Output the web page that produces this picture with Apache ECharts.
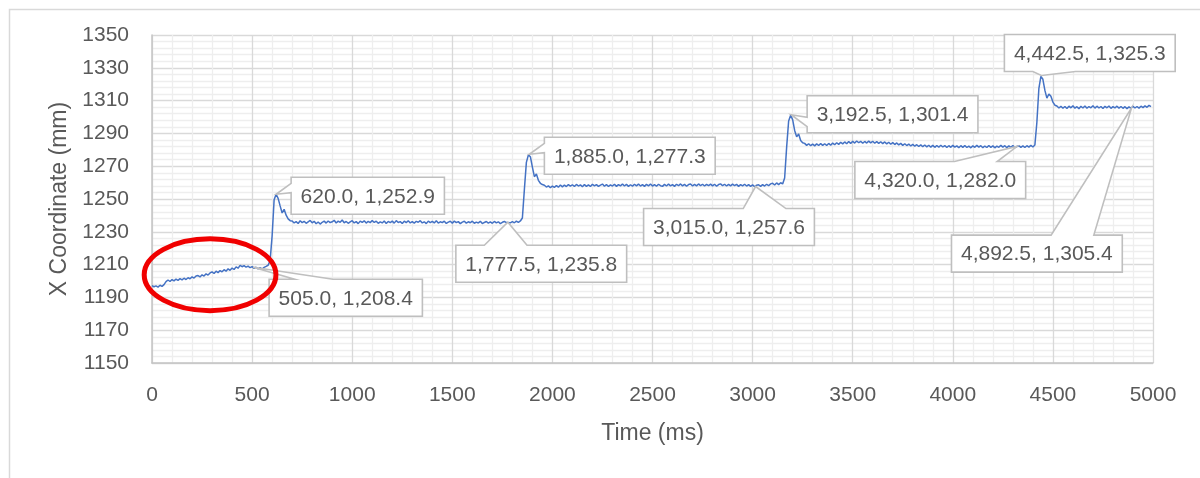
<!DOCTYPE html>
<html>
<head>
<meta charset="utf-8">
<script src="https://cdn.jsdelivr.net/npm/echarts@6/dist/echarts.min.js"></script>
<style>
  html, body { margin: 0; padding: 0; background: #ffffff; }
  #chart { width: 1200px; height: 478px; }
</style>
</head>
<body>
<div id="chart"></div>
<script>
// X position of the tracked point (mm), sampled every 10 ms from t = 0.
const SAMPLE_STEP_MS = 10;

// 0 - 590 ms: slow drift before the first step
const driftPhase = [
  1197.2, 1196.5, 1197.0, 1196.3, 1197.4, 1196.7, 1197.8, 1199.6, 1200.6, 1199.7,
  1200.9, 1200.1, 1201.2, 1200.4, 1201.4, 1200.7, 1201.7, 1200.9, 1202.0, 1201.4,
  1202.5, 1201.8, 1203.0, 1203.3, 1202.5, 1203.8, 1203.0, 1204.4, 1203.6, 1204.9,
  1205.6, 1204.6, 1206.0, 1205.1, 1206.4, 1205.6, 1206.9, 1206.0, 1207.4, 1206.5,
  1207.9, 1207.0, 1208.6, 1207.8, 1209.5, 1208.7, 1209.4, 1208.4, 1209.1, 1208.1,
  1208.8, 1207.7, 1208.4, 1207.4, 1208.2, 1207.3, 1208.3, 1208.9, 1209.6, 1212.4
];
// 600 - 690 ms: first step and overshoot
const step1 = [1227.5, 1249.6, 1252.9, 1250.4, 1245.8, 1241.5, 1243.7, 1240.1, 1237.9, 1236.8];
// 700 - 1840 ms
const plateau1 = [
  1236.6, 1235.4, 1236.2, 1235.1, 1236.7, 1235.6, 1236.4, 1235.2, 1236.1, 1236.9,
  1235.5, 1236.4, 1234.9, 1236.0, 1234.7, 1235.8, 1236.5, 1235.3, 1236.6, 1235.6,
  1236.1, 1237.0, 1235.4, 1236.5, 1235.8, 1237.2, 1235.5, 1236.3, 1235.2, 1236.1,
  1236.8, 1235.4, 1236.2, 1235.0, 1236.5, 1235.7, 1236.7, 1235.3, 1236.4, 1235.6,
  1236.9, 1235.7, 1236.5, 1235.2, 1236.1, 1235.4, 1236.6, 1235.1, 1236.3, 1235.6,
  1236.5, 1235.3, 1236.8, 1235.7, 1236.2, 1235.1, 1236.5, 1235.6, 1236.7, 1235.4,
  1236.2, 1235.3, 1236.4, 1235.8, 1236.8, 1235.4, 1236.1, 1235.0, 1236.5, 1235.6,
  1236.4, 1235.4, 1236.7, 1235.3, 1236.1, 1235.6, 1236.5, 1235.1, 1235.9, 1236.4,
  1235.3, 1236.5, 1235.6, 1236.2, 1235.0, 1235.9, 1236.4, 1235.3, 1236.1, 1235.5,
  1236.5, 1235.2, 1235.9, 1235.4, 1236.4, 1235.0, 1235.7, 1236.3, 1235.3, 1236.0,
  1235.2, 1236.3, 1235.4, 1236.1, 1235.0, 1235.8, 1236.3, 1235.6, 1236.0, 1235.5,
  1236.2, 1235.5, 1236.5, 1235.7, 1236.6
];
// 1850 - 1950 ms
const step2 = [1238.4, 1255.7, 1272.3, 1276.9, 1275.8, 1269.4, 1263.6, 1265.2, 1261.4, 1259.6, 1258.8];
// 1960 - 3140 ms
const plateau2 = [
  1258.4, 1257.3, 1258.0, 1256.9, 1257.9, 1257.1, 1258.2, 1257.2, 1258.5, 1257.4,
  1258.5, 1257.6, 1258.8, 1257.8, 1258.7, 1257.6, 1258.9, 1257.9, 1258.6, 1257.5,
  1258.8, 1257.7, 1258.6, 1257.6, 1259.0, 1258.0, 1258.8, 1257.7, 1258.5, 1259.1,
  1257.8, 1258.8, 1257.6, 1258.6, 1257.9, 1259.0, 1257.7, 1258.8, 1258.0, 1259.2,
  1257.9, 1258.9, 1257.7, 1258.7, 1257.8, 1259.0, 1258.0, 1259.1, 1257.9, 1258.8,
  1257.7, 1258.9, 1258.0, 1259.2, 1257.9, 1258.8, 1257.8, 1259.0, 1258.1, 1257.7,
  1258.9, 1257.9, 1259.1, 1258.0, 1258.8, 1257.7, 1259.0, 1258.1, 1259.2, 1258.0,
  1258.9, 1257.8, 1258.8, 1259.1, 1257.9, 1258.9, 1258.0, 1259.2, 1258.1, 1259.0,
  1257.9, 1258.9, 1258.1, 1259.1, 1258.0, 1259.0, 1257.8, 1258.8, 1259.2, 1258.1,
  1259.0, 1257.9, 1258.9, 1258.0, 1259.1, 1258.1, 1258.9, 1257.7, 1258.8, 1258.0,
  1259.0, 1257.9, 1258.8, 1257.7, 1258.6, 1257.5, 1258.4, 1258.7, 1257.7, 1258.8,
  1257.9, 1259.0, 1258.1, 1259.2, 1259.6, 1258.5, 1259.8, 1258.8, 1259.9
];
// 3150 - 3250 ms
const step3 = [1259.2, 1262.8, 1281.5, 1297.6, 1301.0, 1298.4, 1291.8, 1287.9, 1289.6, 1285.7, 1284.3];
// 3260 - 4410 ms
const plateau3 = [
  1283.9, 1282.7, 1283.7, 1282.5, 1283.5, 1282.4, 1283.6, 1282.6, 1283.8, 1282.7,
  1283.7, 1282.6, 1283.9, 1282.8, 1284.1, 1283.1, 1284.3, 1283.3, 1284.6, 1283.6,
  1284.8, 1283.7, 1285.0, 1283.9, 1285.2, 1284.1, 1285.4, 1284.3, 1285.2, 1284.0,
  1285.1, 1284.1, 1285.3, 1284.2, 1285.2, 1284.0, 1285.0, 1283.9, 1284.9, 1283.8,
  1284.8, 1283.6, 1284.6, 1283.4, 1284.4, 1283.2, 1284.2, 1283.0, 1283.9, 1282.7,
  1283.7, 1282.6, 1283.5, 1282.3, 1283.3, 1282.2, 1283.1, 1282.0, 1283.0, 1281.9,
  1282.9, 1281.8, 1282.8, 1281.6, 1282.7, 1281.5, 1282.6, 1281.6, 1282.8, 1281.7,
  1282.6, 1281.4, 1282.5, 1281.5, 1282.7, 1281.6, 1282.4, 1281.3, 1282.5, 1281.5,
  1282.6, 1281.4, 1282.3, 1281.2, 1282.4, 1281.5, 1282.7, 1281.6, 1282.5, 1281.3,
  1282.3, 1281.4, 1282.6, 1281.5, 1282.4, 1281.2, 1282.3, 1281.5, 1282.7, 1281.6,
  1282.5, 1281.3, 1282.4, 1281.5, 1282.6, 1281.4, 1282.0, 1282.5, 1281.5, 1282.4,
  1281.4, 1282.5, 1281.6, 1282.7, 1281.7, 1282.9
];
// 4420 - 4510 ms
const step4 = [1296.8, 1317.5, 1324.8, 1323.0, 1316.2, 1311.5, 1314.0, 1312.6, 1309.1, 1307.2];
// 4520 - 4990 ms
const plateau4 = [
  1306.7, 1305.5, 1306.5, 1305.3, 1306.4, 1305.2, 1306.6, 1305.6, 1306.8, 1305.4,
  1306.3, 1305.1, 1306.5, 1305.5, 1306.7, 1305.3, 1306.4, 1305.6, 1306.9, 1305.4,
  1306.6, 1305.5, 1306.4, 1305.2, 1306.5, 1305.6, 1306.7, 1305.3, 1306.3, 1305.5,
  1306.6, 1305.4, 1306.4, 1305.3, 1306.3, 1305.1, 1306.2, 1305.3, 1306.5, 1305.5,
  1306.4, 1305.4, 1306.6, 1305.7, 1306.8, 1305.9, 1307.1, 1306.3
];

// Annotated readings (time ms, X mm)
const calloutTimeMs  = [505, 620, 1777.5, 1885, 3015, 3192.5, 4320, 4442.5, 4892.5];
const calloutValueMm = [1208.4, 1252.9, 1235.8, 1277.3, 1257.6, 1301.4, 1282.0, 1325.3, 1305.4];

// Callout box placement: top-left corner relative to the annotated point (px)
const calloutBoxOffset = [
  [16, 12], [15, -17], [-52, 23], [15, -17], [-112, 22],
  [16, -19], [-162, 15], [-37, -41], [-180, 127]
];

// Circled region of interest (time ms, X mm) and its half-extents
const highlightCenter = [290, 1203.8];
const highlightHalfSize = [329, 21.9];

const TEXT_COLOR = '#595959';
const FONT_FAMILY = '"Liberation Sans", Arial, sans-serif';
const LABEL_FONT = '21px ' + FONT_FAMILY;

// Build the series: regular samples plus the annotated readings
const samples = [].concat(driftPhase, step1, plateau1, step2, plateau2, step3, plateau3, step4, plateau4);
const linePoints = samples.map((v, i) => [i * SAMPLE_STEP_MS, v]);
calloutTimeMs.forEach((t, k) => {
  const hit = linePoints.find(p => p[0] === t);
  if (hit) hit[1] = calloutValueMm[k];
  else linePoints.push([t, calloutValueMm[k]]);
});
linePoints.sort((a, b) => a[0] - b[0]);

const calloutData = calloutTimeMs.map((t, k) => [t, calloutValueMm[k]]);

const fmt1 = v => v.toLocaleString('en-US', { minimumFractionDigits: 1, maximumFractionDigits: 1 });

const measureCtx = document.createElement('canvas').getContext('2d');
function textWidth(s) {
  measureCtx.font = LABEL_FONT;
  return measureCtx.measureText(s).width;
}

const PAD_X = 9.5;
const BOX_H = 37;

// Rectangle callout with a wedge pointing at the reading
function renderCallout(params, api) {
  const k = params.dataIndex;
  const tip = api.coord([api.value(0), api.value(1)]);
  const text = fmt1(api.value(0)) + ', ' + fmt1(api.value(1));
  const w = textWidth(text) + 2 * PAD_X;
  const h = BOX_H;
  const l = tip[0] + calloutBoxOffset[k][0];
  const t = tip[1] + calloutBoxOffset[k][1];
  const r = l + w, b = t + h;
  const dx = tip[0] - (l + w / 2);
  const dy = tip[1] - (t + h / 2);
  const vertical = Math.abs(dy) - Math.abs(dx) * h / w > 0;
  const fx = dx > 0 ? [7, 10] : [2, 5];
  const fy = dy > 0 ? [7, 10] : [2, 5];
  const pts = [[l, t]];
  if (vertical && dy < 0) pts.push([l + w * fx[0] / 12, t], tip, [l + w * fx[1] / 12, t]);
  pts.push([r, t]);
  if (!vertical && dx > 0) pts.push([r, t + h * fy[0] / 12], tip, [r, t + h * fy[1] / 12]);
  pts.push([r, b]);
  if (vertical && dy > 0) pts.push([l + w * fx[1] / 12, b], tip, [l + w * fx[0] / 12, b]);
  pts.push([l, b]);
  if (!vertical && dx < 0) pts.push([l, t + h * fy[1] / 12], tip, [l, t + h * fy[0] / 12]);
  return {
    type: 'group',
    children: [
      { type: 'polygon', shape: { points: pts },
        style: { fill: '#ffffff', stroke: '#bfbfbf', lineWidth: 1.6 } },
      { type: 'text',
        style: { x: l + w / 2, y: t + h / 2 + 1, text: text, fill: TEXT_COLOR,
                 font: LABEL_FONT, align: 'center', verticalAlign: 'middle' } }
    ]
  };
}

const chart = echarts.init(document.getElementById('chart'), null, { renderer: 'canvas' });

const axisLabelStyle = { color: TEXT_COLOR, fontSize: 21, fontFamily: FONT_FAMILY };

chart.setOption({
  animation: false,
  backgroundColor: '#ffffff',
  grid: { left: 152, right: 47, top: 35, bottom: 115, containLabel: false },
  xAxis: {
    type: 'value',
    min: 0, max: 5000, interval: 500,
    name: 'Time (ms)',
    nameLocation: 'middle',
    nameGap: 59,
    nameTextStyle: { color: TEXT_COLOR, fontSize: 23, fontFamily: FONT_FAMILY },
    axisLine: { show: true, lineStyle: { color: '#c4c4c4', width: 1.5 } },
    axisTick: { show: false },
    axisLabel: Object.assign({ margin: 22, formatter: v => String(v) }, axisLabelStyle),
    splitLine: { show: true, lineStyle: { color: '#d9d9d9', width: 1.3 } },
    minorTick: { show: false, splitNumber: 5 },
    minorSplitLine: { show: true, lineStyle: { color: '#eeeeee', width: 1.3 } }
  },
  yAxis: {
    type: 'value',
    min: 1150, max: 1350, interval: 20,
    name: 'X Coordinate (mm)',
    nameLocation: 'middle',
    nameGap: 80,
    nameTextStyle: { color: TEXT_COLOR, fontSize: 23, fontFamily: FONT_FAMILY },
    axisLine: { show: true, lineStyle: { color: '#c4c4c4', width: 1.5 } },
    axisTick: { show: false },
    axisLabel: Object.assign({ margin: 23, formatter: v => String(v) }, axisLabelStyle),
    splitLine: { show: true, lineStyle: { color: '#d9d9d9', width: 1.3 } },
    minorTick: { show: false, splitNumber: 5 },
    minorSplitLine: { show: true, lineStyle: { color: '#eeeeee', width: 1.3 } }
  },
  series: [
    {
      type: 'line',
      data: linePoints,
      showSymbol: false,
      symbol: 'none',
      lineStyle: { color: '#4472c4', width: 1.5 },
      z: 3
    },
    {
      type: 'custom',
      data: calloutData,
      encode: { x: 0, y: 1 },
      renderItem: renderCallout,
      clip: false,
      silent: true,
      z: 5
    }
  ]
});

// Chart frame and the circled region
const c0 = chart.convertToPixel({ gridIndex: 0 }, highlightCenter);
const c1 = chart.convertToPixel({ gridIndex: 0 },
  [highlightCenter[0] + highlightHalfSize[0], highlightCenter[1] + highlightHalfSize[1]]);
chart.setOption({
  graphic: [
    { type: 'rect', left: 7, top: 7, shape: { width: 1300, height: 600 },
      style: { fill: 'none', stroke: '#d9d9d9', lineWidth: 1.5 }, silent: true, z: 0 },
    { type: 'ellipse', shape: { cx: c0[0], cy: c0[1], rx: c1[0] - c0[0], ry: c0[1] - c1[1] },
      style: { fill: 'none', stroke: '#f00000', lineWidth: 5 }, silent: true, z: 100 }
  ]
});
</script>
</body>
</html>
